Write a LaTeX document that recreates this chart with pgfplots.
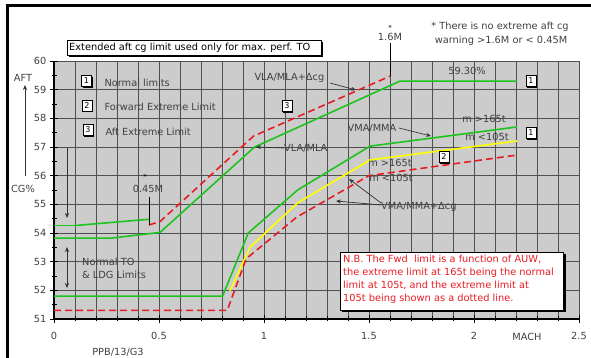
\documentclass[border=0pt]{standalone}
\usepackage{pgfplots}
\pgfplotsset{compat=1.18}
\usepackage{fontspec}
\setmainfont{DejaVu Sans}
\usetikzlibrary{shadows,arrows.meta}
\definecolor{bggray}{RGB}{204,204,204}
\definecolor{gridgray}{RGB}{80,80,80}
\definecolor{lgreen}{RGB}{30,195,30}
\definecolor{lred}{RGB}{232,28,36}
\definecolor{lyellow}{RGB}{255,255,0}
\newcommand\tf{\fontsize{9.8}{11}\selectfont}
\tikzset{
  numbox/.style={draw=black, fill=white, line width=0.7pt, inner sep=0pt,
    minimum width=10pt, minimum height=11pt, font=\fontsize{8}{8}\selectfont,
    drop shadow={shadow xshift=1.3pt, shadow yshift=-1.3pt, fill=black, opacity=1}},
  arr/.style={-{Stealth[length=5pt,width=4pt]}, line width=0.7pt, black!80}
}
\begin{document}
\begin{tikzpicture}
\path[use as bounding box] (0,0) rectangle (591pt,358pt);
\begin{axis}[
  at={(54pt,39pt)}, anchor=south west,
  scale only axis, width=525pt, height=258pt,
  xmin=0, xmax=2.5, ymin=51, ymax=60,
  xtick={0,0.5,1,1.5,2,2.5}, xticklabels={0,0.5,1,1.5,2,2.5},
  ytick={51,52,...,60},
  minor x tick num=4, minor y tick num=1,
  axis x line=bottom, axis y line=left,
  axis line style={-, line width=1.2pt},
  xmajorgrids, xminorgrids, ymajorgrids,
  major grid style={gridgray, line width=0.9pt},
  minor grid style={gridgray, line width=0.9pt},
  axis background/.style={fill=bggray},
  tick align=center, major tick length=8pt, minor tick length=5pt,
  tick style={black, line width=0.9pt},
  ticklabel style={font=\tf, text=black!75},
  xticklabel style={yshift=-6pt},
  /pgf/number format/assume math mode=true,
]
% VLA/MLA (normal aft limit, upper green)
\addplot[lgreen, line width=1.6pt] coordinates {(0,53.82) (0.27,53.82) (0.505,54.02) (0.955,57.0) (1.648,59.3) (2.205,59.3)};
% VMA/MMA (normal limit, lower green)
\addplot[lgreen, line width=1.6pt] coordinates {(0,51.8) (0.803,51.8) (0.925,54.0) (1.16,55.5) (1.505,57.03) (2.205,57.7)};
% extended aft cg short green
\addplot[lgreen, line width=0.6pt] coordinates {(0,54.27) (0.1,54.27)};
\addplot[lgreen, line width=1.6pt] coordinates {(0.1,54.26) (0.455,54.48)};
% yellow m<105t
\addplot[lyellow, line width=1.6pt] coordinates {(0.838,51.98) (0.933,53.5) (1.16,55.05) (1.505,56.55) (2.205,57.21)};
% aft extreme limit (red dashed)
\addplot[lred, line width=1.6pt, dash pattern=on 7pt off 4pt] coordinates {(0.452,54.28) (0.505,54.4) (0.95,57.38) (1.6,59.47)};
% forward extreme limit (red dashed)
\addplot[lred, line width=1.6pt, dash pattern=on 7pt off 4pt] coordinates {(0,51.3) (0.825,51.3) (0.915,53.1) (1.157,54.56) (1.5,56.0) (2.205,56.72)};
\end{axis}
\begin{scope}[x=1pt, y=-1pt, shift={(0pt,358pt)}, font=\tf]
  \draw[line width=3pt] (7,358) -- (7,6) -- (591,6);
  % top box
  \fill[black] (69,42) rectangle (323,57.5);
  \filldraw[fill=white, draw=black, line width=0.6pt] (67,40) rectangle (321,55);
  \node[anchor=west, inner sep=0pt] at (69,47.5) {Extended aft cg limit used only for max. perf. TO};
  % y axis title
  \node[text=black!75] at (23,78) {AFT};
  \node[text=black!75] at (23,189) {CG\%};
  \draw[arr] (25,176) -- (25,85);
  % legend
  \node[numbox] at (86.5,81) {1};
  \node[numbox] at (87,105.5) {2};
  \node[numbox] at (88,130) {3};
  \node[anchor=west, text=black!75] at (101,83) {Normal limits};
  \node[anchor=west, text=black!75] at (101,107) {Forward Extreme Limit};
  \node[anchor=west, text=black!75] at (102,132) {Aft Extreme Limit};
  % annotations
  \node[anchor=west, text=black!75] at (251,78) {VLA/MLA+Δcg};
  \draw[arr] (330,83) -- (356,90);
  \node[numbox] at (287,106) {3};
  \node[anchor=west, text=black!75, inner sep=1pt] at (283,148) {VLA/MLA};
  \draw[arr] (284,148) -- (256,147);
  \node[text=black!75] at (467,71) {59.30\%};
  \node[numbox] at (531,81) {1};
  \node[text=black!75] at (372,128) {VMA/MMA};
  \draw[arr] (399,128) -- (431,136);
  \node[text=black!75] at (484,119) {m >165t};
  \node[text=black!75] at (487,137) {m <105t};
  \node[numbox] at (531,133) {1};
  \node[numbox] at (444,157) {2};
  \node[text=black!75] at (390,163) {m >165t};
  \node[text=black!75] at (391,178) {m <105t};
  \node[anchor=west, text=black!75, inner sep=1pt] at (380,207) {VMA/MMA+Δcg};
  \draw[arr] (381,203) -- (349,179);
  \draw[arr] (381,205) -- (336,201);
  \node[font=\fontsize{7}{7}\selectfont] at (145,177) {*};
  \node[text=black!75] at (148,189) {0.45M};
  \draw[line width=0.8pt] (149,197) -- (149,225);
  \node[font=\fontsize{7}{7}\selectfont] at (390,28) {*};
  \node[text=black!75] at (390,37) {1.6M};
  \draw[line width=0.8pt] (390,43) -- (390,76);
  \node[text=black!75] at (500,27) {* There is no extreme aft cg};
  \node[text=black!75] at (501,41) {warning >1.6M or < 0.45M};
  % N.B. box
  \fill[black] (342,254) rectangle (565.5,312.5);
  \filldraw[fill=white, draw=black, line width=0.6pt] (340,252) rectangle (563,310);
  \node[anchor=west, text=lred, inner sep=0pt] at (343,259.5) {N.B. The Fwd\ \ limit is a function of AUW,};
  \node[anchor=west, text=lred, inner sep=0pt] at (343,272.5) {the extreme limit at 165t being the normal};
  \node[anchor=west, text=lred, inner sep=0pt] at (343,285.5) {limit at 105t, and the extreme limit at};
  \node[anchor=west, text=lred, inner sep=0pt] at (343,298.5) {105t being shown as a dotted line.};
  % normal TO
  \node[anchor=west, text=black!75, inner sep=0pt] at (82,262) {Normal TO};
  \node[anchor=west, text=black!75, inner sep=0pt] at (82,275) {\& LDG Limits};
  \draw[arr] (67,148) -- (67,218);
  \draw[{Stealth[length=5pt,width=4pt]}-{Stealth[length=5pt,width=4pt]}, line width=0.7pt, black!80] (67,247) -- (67,288);
  % bottom texts
  \node[text=black!75] at (527,337) {MACH};
  \node[text=black!75] at (118,352) {PPB/13/G3};
\end{scope}
\end{tikzpicture}
\end{document}
